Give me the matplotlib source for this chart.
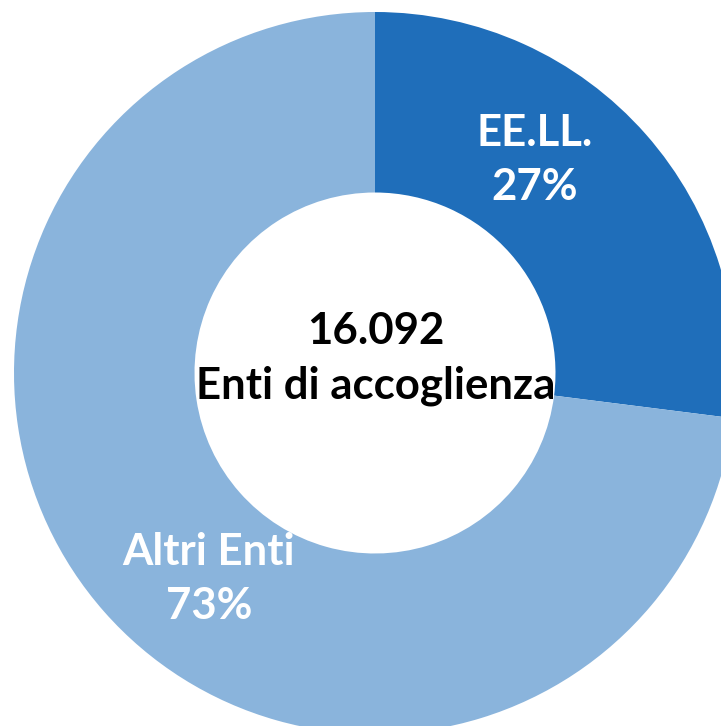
import matplotlib.pyplot as plt

# dati
etichette = ['EE.LL.', 'Altri Enti']
percentuali = [27, 73]
colori = ['#1F6EBA', '#8AB4DC']
totale = '16.092'
descrizione = 'Enti di accoglienza'

W, H = 721, 726
fig = plt.figure(figsize=(W / 100, H / 100), dpi=100)
ax = fig.add_axes([0, 0, 1, 1])

cx, cy, r = 375, 373, 361
# asse y invertito: startangle 270 e senso antiorario = ore 12, senso orario a schermo
ax.pie(percentuali, colors=colori, startangle=270, counterclock=True,
       center=(cx, cy), radius=r, frame=True,
       wedgeprops=dict(width=r * 0.5, edgecolor='none'))
ax.set_xlim(0, W)
ax.set_ylim(H, 0)
ax.set_aspect('equal')
ax.axis('off')

font = dict(family='Lato', weight='bold', ha='center', va='center')
ax.text(535, 160, f'{etichette[0]}\n{percentuali[0]}%', color='white',
        fontsize=31.5, linespacing=1.45, **font)
ax.text(209, 579, f'{etichette[1]}\n{percentuali[1]}%', color='white',
        fontsize=31.5, linespacing=1.45, **font)
ax.text(376, 331, totale, color='black', fontsize=31.5, **font)
ax.text(376, 386, descrizione, color='black', fontsize=31.5, **font)

fig.savefig('out.png', dpi=100)
